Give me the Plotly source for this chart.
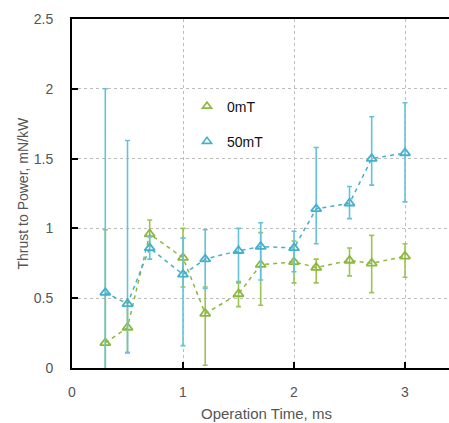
import plotly.graph_objects as go

# ---- data ----
time_ms = [0.3, 0.5, 0.7, 1.0, 1.2, 1.5, 1.7, 2.0, 2.2, 2.5, 2.7, 3.0]

tp_0mT = [0.18, 0.29, 0.96, 0.79, 0.39, 0.53, 0.74, 0.76, 0.72, 0.77, 0.75, 0.80]
err_up_0mT = [0.81, 0.18, 0.10, 0.21, 0.19, 0.08, 0.23, 0.15, 0.06, 0.09, 0.20, 0.09]
err_dn_0mT = [0.81, 0.18, 0.09, 0.21, 0.37, 0.09, 0.29, 0.15, 0.11, 0.11, 0.21, 0.15]

tp_50mT = [0.54, 0.46, 0.86, 0.67, 0.78, 0.84, 0.87, 0.86, 1.14, 1.18, 1.50, 1.54]
err_up_50mT = [1.46, 1.17, 0.08, 0.26, 0.21, 0.16, 0.17, 0.12, 0.44, 0.12, 0.30, 0.36]
err_dn_50mT = [1.46, 0.35, 0.08, 0.51, 0.21, 0.22, 0.24, 0.17, 0.25, 0.11, 0.19, 0.35]

x_ticks = [0, 1, 2, 3]
y_ticks = [0, 0.5, 1, 1.5, 2, 2.5]
y_tick_text = ["0", "0.5", "1", "1.5", "2", "2.5"]

GREEN = "#8DB83F"
GREEN_ERR = "#9CC453"
BLUE = "#45B0CC"
BLUE_ERR = "#66C2DB"

W, H = 449, 423
L, R, T, B = 72, 0, 19, 55
px_per_unit = 111.0
x_max = (W - L - R) / px_per_unit

fig = go.Figure()

series = [
    ("0mT", tp_0mT, err_up_0mT, err_dn_0mT, GREEN, GREEN_ERR),
    ("50mT", tp_50mT, err_up_50mT, err_dn_50mT, BLUE, BLUE_ERR),
]

for name, y, eu, ed, col, ecol in series:
    fig.add_trace(go.Scatter(
        x=time_ms, y=y, mode="lines+markers", name=name, showlegend=False,
        line=dict(color=col, width=1.5, dash="4px,4px"),
        marker=dict(symbol="triangle-up-open", size=9, color=col,
                    line=dict(width=1.8, color=col)),
        error_y=dict(type="data", symmetric=False, array=eu, arrayminus=ed,
                     color=ecol, thickness=1.6, width=2.5),
    ))

for i, (name, y, eu, ed, col, ecol) in enumerate(series):
    fig.add_trace(go.Scatter(
        x=[None], y=[None], mode="markers", name=name, legendgroup=f"g{i}",
        marker=dict(symbol="triangle-up-open", size=8, color=col,
                    line=dict(width=1.6, color=col)),
    ))

grid_kw = dict(showgrid=True, gridcolor="#BDBDBD", gridwidth=1, griddash="3px,3px")

fig.update_layout(
    width=W, height=H,
    margin=dict(l=L, r=R, t=T, b=B, pad=0),
    paper_bgcolor="white", plot_bgcolor="white",
    font=dict(family="Liberation Sans, Arial, sans-serif", size=14, color="#555555"),
    showlegend=True,
    legend=dict(x=0.305, y=0.795, xanchor="left", yanchor="top",
                bgcolor="rgba(0,0,0,0)", tracegroupgap=14,
                font=dict(size=14, color="#111111")),
    xaxis=dict(range=[0, x_max], tickvals=x_ticks, ticks="inside", ticklen=6,
               tickcolor="black", tickwidth=1.5,
               showline=True, linecolor="black", linewidth=2, mirror=True,
               zeroline=False, ticklabelstandoff=10, **grid_kw),
    yaxis=dict(range=[0, 2.5], tickvals=y_ticks, ticktext=y_tick_text,
               ticks="inside", ticklen=6, tickcolor="black", tickwidth=1.5,
               showline=True, linecolor="black", linewidth=2, mirror=False,
               zeroline=False, ticklabelstandoff=14, **grid_kw),
    annotations=[
        dict(text="Operation Time, ms", xref="paper", yref="paper",
             x=(266 - L) / (W - L - R), y=-(413 - (H - B)) / (H - T - B),
             xanchor="center", yanchor="middle", showarrow=False,
             font=dict(size=15, color="#555555")),
        dict(text="Thrust to Power, mN/kW", xref="paper", yref="paper",
             x=-(L - 22) / (W - L - R), y=0.5, textangle=-90,
             xanchor="center", yanchor="middle", showarrow=False,
             font=dict(size=14, color="#555555")),
    ],
)

fig.write_html("out.html")
